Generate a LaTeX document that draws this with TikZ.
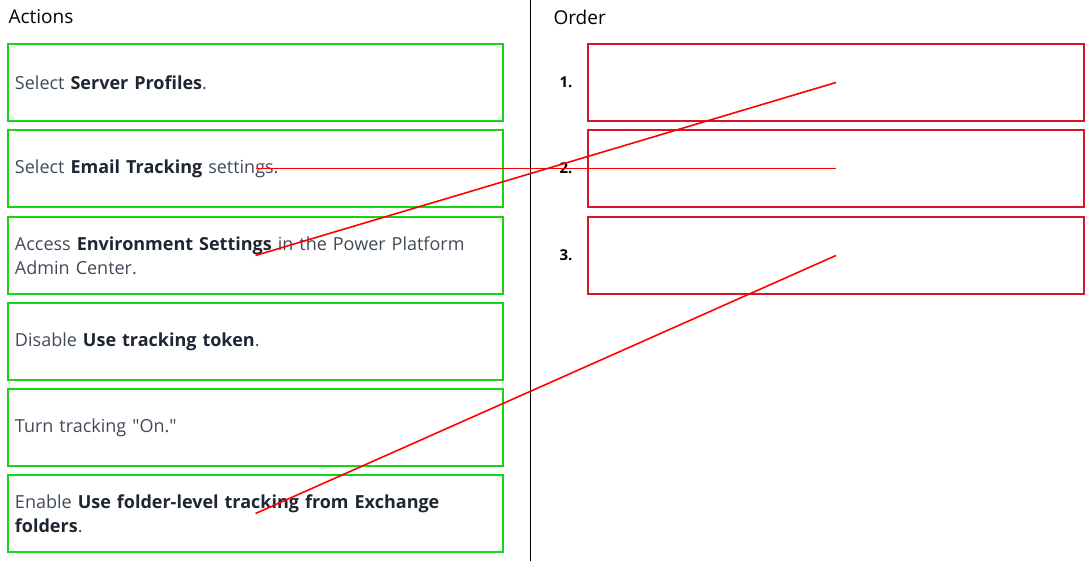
\documentclass[tikz,border=0pt]{standalone}
\usepackage{fontspec}
\setmainfont{Open Sans}
\usepackage{tikz}
\usetikzlibrary{positioning}
\definecolor{actgreen}{RGB}{20,215,20}
\definecolor{ordred}{RGB}{215,20,40}
\definecolor{txtgray}{RGB}{65,75,88}
\definecolor{txtdark}{RGB}{30,38,50}
\definecolor{linkred}{RGB}{255,0,0}
\tikzset{
  actbox/.style={draw=actgreen,line width=2pt,rectangle,anchor=north west,minimum height=77pt,
    text width=481pt,inner xsep=7pt,align=left,text=txtgray,font=\fontsize{18}{24}\selectfont},
  ordbox/.style={draw=ordred,line width=2pt,rectangle,anchor=north west,minimum height=77pt,minimum width=496pt},
  ordnum/.style={font=\bfseries\fontsize{15}{17}\selectfont,text=black},
  head/.style={anchor=west,font=\fontsize{19}{22}\selectfont,text=black},
  link/.style={draw=linkred,line width=1.6pt}
}
\newcommand{\bt}[1]{\textcolor{txtdark}{\textbf{#1}}}
\begin{document}
\begin{tikzpicture}[x=1pt,y=-1pt]
  \useasboundingbox[fill=white](0,0)rectangle(1088,561);
  \draw[black,line width=0.8pt](530,0)--(530,561);
  \node[head] (acthead) at (5,17) {Actions};
  \node[head] (ordhead) at (550,17) {Order};
  % actions
  \node[actbox] (act1) at (7,43) {Select \bt{Server Profiles}.};
  \node[actbox] (act2) at (7,129) {Select \bt{Email Tracking} settings.};
  \node[actbox] (act3) at (7,216) {Access \bt{Environment Settings} in the Power Platform\\Admin Center.};
  \node[actbox] (act4) at (7,302) {Disable \bt{Use tracking token}.};
  \node[actbox] (act5) at (7,388) {Turn tracking \textquotedbl On.\textquotedbl};
  \node[actbox] (act6) at (7,474) {Enable \bt{Use folder-level tracking from Exchange}\\\bt{folders}.};
  % order
  \node[ordbox] (ord1) at (587,43) {};
  \node[ordbox] (ord2) at (587,129) {};
  \node[ordbox] (ord3) at (587,216) {};
  \node[ordnum,left=11pt of ord1] (num1) {1.};
  \node[ordnum,left=11pt of ord2] (num2) {2.};
  \node[ordnum,left=11pt of ord3] (num3) {3.};
  % answer lines
  \draw[link] (act3.center)--(ord1.center);
  \draw[link] (act2.center)--(ord2.center);
  \draw[link] (act6.center)--(ord3.center);
\end{tikzpicture}
\end{document}
